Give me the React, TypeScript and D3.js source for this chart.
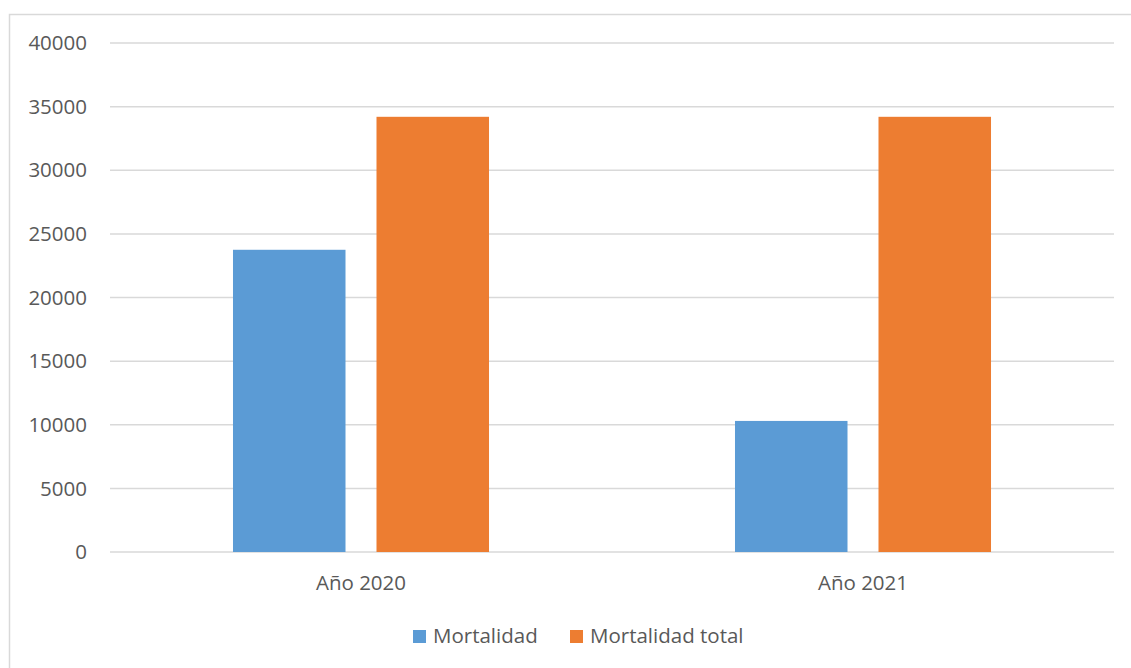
import React from "react";
import * as d3 from "d3";

const categories = ["Año 2020", "Año 2021"];
const seriesNames = ["Mortalidad", "Mortalidad total"];
const mortalidad = [23750, 10300];
const mortalidadTotal = [34200, 34200];
const yTicks = [0, 5000, 10000, 15000, 20000, 25000, 30000, 35000, 40000];
const colors = ["#5B9BD5", "#ED7D31"];

const W = 1131;
const H = 668;
const FONT = "Open Sans, Noto Sans, sans-serif";
const FS = 20.5;

export default function App() {
  const x0 = d3.scaleBand<string>().domain(categories).range([110, 1114]).padding(0);
  const x1 = d3
    .scaleBand<string>()
    .domain(seriesNames)
    .range([0, x0.bandwidth()])
    .paddingInner(0.216)
    .paddingOuter(0.857);
  const y = d3.scaleLinear().domain([0, 40000]).range([552, 43]);
  const values = [mortalidad, mortalidadTotal];

  return (
    <svg
      width={W}
      height={H}
      style={{ position: "absolute", left: 0, top: 0, background: "#fff" }}
    >
      <rect x={9.5} y={14.5} width={1140} height={700} fill="#fff" stroke="#d9d9d9" strokeWidth={1.5} />
      {yTicks.map((t) => (
        <g key={t}>
          <line x1={110} x2={1114} y1={y(t)} y2={y(t)} stroke="#d9d9d9" strokeWidth={1.5} />
          <text
            x={87}
            y={y(t)}
            dy="0.35em"
            textAnchor="end"
            fontFamily={FONT}
            fontSize={FS}
            fill="#595959"
          >
            {t}
          </text>
        </g>
      ))}
      {categories.map((c, ci) => (
        <g key={c}>
          {seriesNames.map((s, si) => (
            <rect
              key={s}
              x={(x0(c) as number) + (x1(s) as number)}
              y={y(values[si][ci])}
              width={x1.bandwidth()}
              height={y(0) - y(values[si][ci])}
              fill={colors[si]}
            />
          ))}
          <text
            x={(x0(c) as number) + x0.bandwidth() / 2}
            y={583}
            dy="0.35em"
            textAnchor="middle"
            fontFamily={FONT}
            fontSize={FS}
            fill="#595959"
          >
            {c}
          </text>
        </g>
      ))}
      <g>
        <rect x={413} y={630} width={13} height={13} fill={colors[0]} />
        <text x={433} y={636} dy="0.35em" fontFamily={FONT} fontSize={FS} fill="#595959">
          {seriesNames[0]}
        </text>
        <rect x={570} y={630} width={13} height={13} fill={colors[1]} />
        <text x={590} y={636} dy="0.35em" fontFamily={FONT} fontSize={FS} fill="#595959">
          {seriesNames[1]}
        </text>
      </g>
    </svg>
  );
}
